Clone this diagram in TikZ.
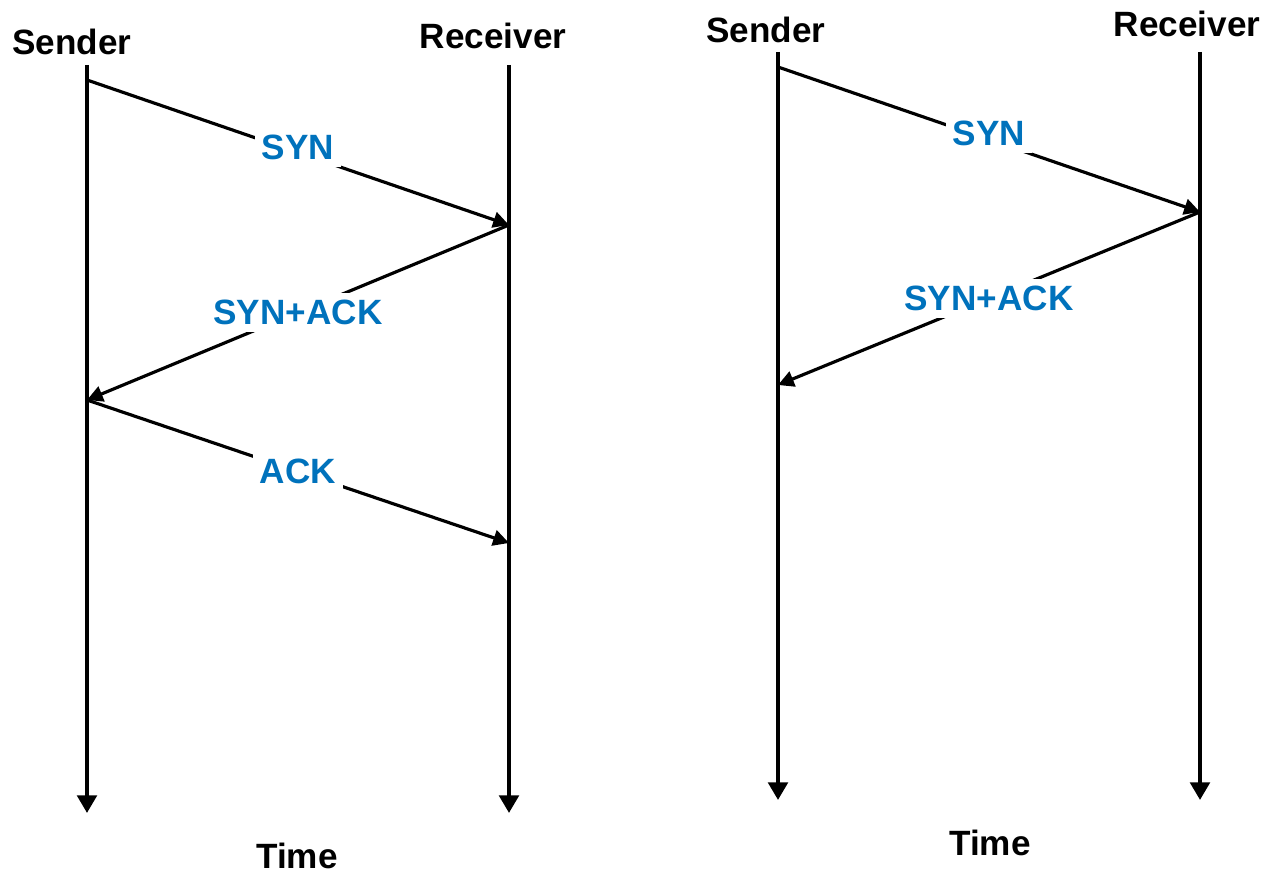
\documentclass[tikz,border=0pt]{standalone}
\usepackage{fontspec}
\setmainfont{Liberation Sans}
\usetikzlibrary{arrows.meta}
\definecolor{segblue}{RGB}{0,114,188}

\begin{document}
\begin{tikzpicture}[x=0.02cm,y=-0.02cm,
    party/.style={font=\fontsize{20}{24}\selectfont\bfseries,inner sep=0pt},
    lifeline/.style={line width=2.3pt,-{Triangle[length=10pt,width=11pt]}},
    msg/.style={line width=1.8pt,-{Triangle[length=9pt,width=9pt]}},
    seglabel/.style={font=\fontsize{20}{24}\selectfont\bfseries,text=segblue,
        fill=white,inner sep=4pt}]
    \useasboundingbox (0,0) rectangle (1265,874);

    % Three-way handshake
    \node[party] (snd1) at (72,42) {Sender};
    \node[party] (rcv1) at (493,36) {Receiver};
    \coordinate (s1top) at (87,65);
    \coordinate (s1bot) at (87,813);
    \coordinate (r1top) at (509,65);
    \coordinate (r1bot) at (509,813);
    \draw[lifeline] (s1top) -- (s1bot);
    \draw[lifeline] (r1top) -- (r1bot);
    \coordinate (s1syn) at (87,80);
    \coordinate (r1syn) at (509,225);
    \coordinate (s1ack) at (87,400);
    \coordinate (r1ack) at (509,543);
    \draw[msg] (s1syn) -- node[seglabel,yshift=0.1cm] (syn1) {SYN} (r1syn);
    \draw[msg] (r1syn) -- node[seglabel] (synack1) {SYN+ACK} (s1ack);
    \draw[msg] (s1ack) -- node[seglabel] (ack1) {ACK} (r1ack);
    \node[party] (time1) at (297,856) {Time};

    % Handshake without the final ACK
    \node[party] (snd2) at (766,30) {Sender};
    \node[party] (rcv2) at (1187,24) {Receiver};
    \coordinate (s2top) at (778,52);
    \coordinate (s2bot) at (778,800);
    \coordinate (r2top) at (1200,52);
    \coordinate (r2bot) at (1200,800);
    \draw[lifeline] (s2top) -- (s2bot);
    \draw[lifeline] (r2top) -- (r2bot);
    \coordinate (s2syn) at (778,67);
    \coordinate (r2syn) at (1200,212);
    \coordinate (s2ack) at (778,385);
    \draw[msg] (s2syn) -- node[seglabel,yshift=0.12cm] (syn2) {SYN} (r2syn);
    \draw[msg] (r2syn) -- node[seglabel] (synack2) {SYN+ACK} (s2ack);
    \node[party] (time2) at (990,843) {Time};
\end{tikzpicture}
\end{document}
